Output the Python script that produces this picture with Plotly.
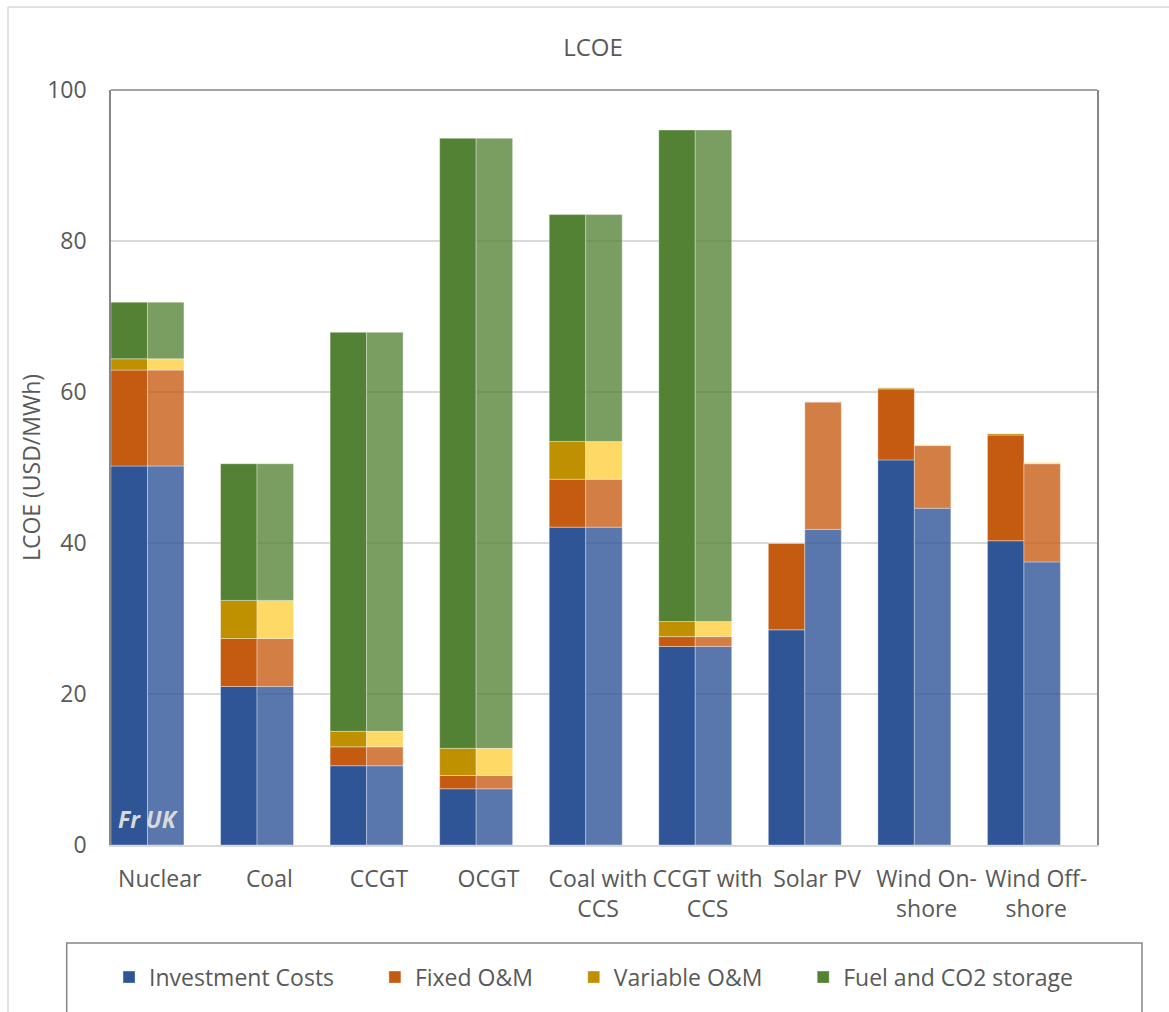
import plotly.graph_objects as go

categories = ["Nuclear", "Coal", "CCGT", "OCGT", "Coal with<br>CCS", "CCGT with<br>CCS",
              "Solar PV", "Wind On-<br>shore", "Wind Off-<br>shore"]
components = ["Investment Costs", "Fixed O&M", "Variable O&M", "Fuel and CO2 storage"]

# France (left bar of each pair)
fr_investment = [50.2, 21.0, 10.5, 7.45, 42.1, 26.3, 28.5, 51.0, 40.3]
fr_fixed      = [12.7, 6.35, 2.5, 1.75, 6.35, 1.3, 11.5, 9.4, 14.0]
fr_variable   = [1.5, 5.05, 2.05, 3.6, 5.0, 2.0, 0.0, 0.15, 0.2]
fr_fuel       = [7.5, 18.1, 52.85, 80.8, 30.05, 65.1, 0.0, 0.0, 0.0]

# UK (right bar of each pair)
uk_investment = [50.2, 21.0, 10.5, 7.45, 42.1, 26.3, 41.8, 44.6, 37.5]
uk_fixed      = [12.7, 6.35, 2.5, 1.75, 6.35, 1.3, 16.9, 8.3, 13.0]
uk_variable   = [1.5, 5.05, 2.05, 3.6, 5.0, 2.0, 0.0, 0.15, 0.2]
uk_fuel       = [7.5, 18.1, 52.85, 80.8, 30.05, 65.1, 0.0, 0.0, 0.0]

fr_colors = ["#2F5597", "#C55A11", "#BF9000", "#548235"]
uk_colors = ["rgba(47,85,151,0.80)", "rgba(197,90,17,0.78)", "rgba(255,217,102,1.0)", "rgba(84,130,53,0.78)"]

FONT = "Open Sans"
GREY = "#595959"
PAD = "\u00a0" * 6  # extra spacing between legend entries

fig = go.Figure()
fr_series = [fr_investment, fr_fixed, fr_variable, fr_fuel]
uk_series = [uk_investment, uk_fixed, uk_variable, uk_fuel]

for i, (name, vals, col) in enumerate(zip(components, fr_series, fr_colors)):
    label = name + (PAD if i < len(components) - 1 else "")
    fig.add_trace(go.Bar(x=categories, y=vals, name=label, marker_color=col,
                         marker_line=dict(color="rgba(255,255,255,0.35)", width=1),
                         offset=-0.5, width=0.333, xaxis="x", yaxis="y",
                         legendgroup=name, showlegend=True))
for name, vals, col in zip(components, uk_series, uk_colors):
    fig.add_trace(go.Bar(x=categories, y=vals, name=name + " (UK)", marker_color=col,
                         marker_line=dict(color="rgba(255,255,255,0.35)", width=1),
                         offset=-0.167, width=0.333, xaxis="x2", yaxis="y",
                         legendgroup=name, showlegend=False))

fig.update_layout(
    width=1169, height=1012,
    margin=dict(l=111, r=72, t=90, b=167),
    barmode="relative",
    plot_bgcolor="white", paper_bgcolor="white",
    font=dict(family=FONT, color=GREY, size=23),
    title=dict(text="LCOE", x=593/1169, xref="container", xanchor="center",
               y=1 - 48/1012, yref="container", yanchor="middle",
               font=dict(family=FONT, size=24, color=GREY)),
    xaxis=dict(type="category", categoryorder="array", categoryarray=categories,
               range=[-0.5, 8.5], showgrid=False, showline=True, linecolor="#D9D9D9",
               linewidth=1.5, ticks="", tickfont=dict(size=23, color=GREY, family=FONT),
               ticklabelstandoff=13, ticklabelshift=-6, fixedrange=True),
    xaxis2=dict(type="category", categoryorder="array", categoryarray=categories,
                overlaying="x", matches="x", visible=False),
    yaxis=dict(range=[0, 100], dtick=20, showgrid=True, gridcolor="#D9D9D9", gridwidth=1.5,
               showline=True, linecolor="#868686", linewidth=1.5, mirror=True,
               ticks="", zeroline=False, tickfont=dict(size=23, color=GREY, family=FONT),
               ticklabelstandoff=18,
               title=dict(text="LCOE (USD/MWh)", font=dict(size=23, color=GREY, family=FONT),
                          standoff=0)),
    legend=dict(orientation="h", x=-0.002, xanchor="left", y=-0.175, yanchor="middle",
                yref="paper", font=dict(size=23, color=GREY, family=FONT),
                bgcolor="rgba(0,0,0,0)", traceorder="normal"),
    shapes=[
        # plot area top border
        dict(type="line", xref="paper", yref="paper", x0=0, x1=1, y0=1, y1=1,
             line=dict(color="#868686", width=1.5)),
        # legend box
        dict(type="rect", xref="paper", yref="paper",
             x0=(66.7 - 111) / 986, x1=(1142 - 111) / 986,
             y0=(845 - 1030) / 755, y1=(845 - 943) / 755,
             line=dict(color="#868686", width=1.5)),
        # outer chart border (left and top)
        dict(type="line", xref="paper", yref="paper",
             x0=(8 - 111) / 986, x1=(8 - 111) / 986, y0=(845 - 1030) / 755, y1=(845 - 7) / 755,
             line=dict(color="#D9D9D9", width=1.5)),
        dict(type="line", xref="paper", yref="paper",
             x0=(8 - 111) / 986, x1=(1180 - 111) / 986, y0=(845 - 7) / 755, y1=(845 - 7) / 755,
             line=dict(color="#D9D9D9", width=1.5)),
    ],
    annotations=[
        dict(text="<b><i>Fr UK</i></b>", x=categories[0], xref="x", y=0, yref="y",
             xanchor="center", yanchor="bottom", xshift=-17, yshift=8, showarrow=False,
             font=dict(family=FONT, size=23, color="#D9D9D9")),
    ],
)

fig.write_html("out.html")
